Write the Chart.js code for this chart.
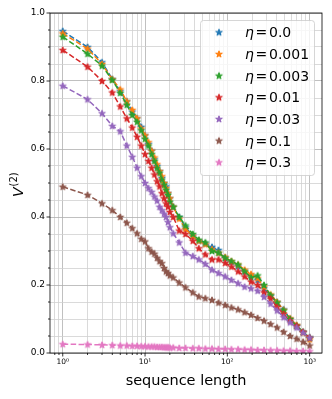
<!DOCTYPE html>
<html>
<head>
<meta charset="utf-8">
<script src="https://cdn.jsdelivr.net/npm/chart.js@4.4.1/dist/chart.umd.min.js"></script>
<style>
  html, body { margin: 0; padding: 0; background: #fff; }
  #wrap { width: 332px; height: 399px; }
</style>
</head>
<body>
<div id="wrap"><canvas id="myChart"></canvas></div>
<script>
// sequence lengths (x) and V^(2) for each eta
const lengths = [1, 2, 3, 4, 5, 6, 7, 8, 9, 10, 11, 12, 13, 14, 15, 16, 17, 18, 19, 20,
  22, 26, 31, 38, 45, 54, 65, 78, 94, 112, 135, 162, 194, 233, 279, 335, 402, 482, 579, 694, 833, 1000];

const eta0 = [0.947, 0.900, 0.855, 0.806, 0.770, 0.740, 0.710, 0.690, 0.665, 0.640, 0.615, 0.595, 0.570, 0.550,
  0.535, 0.515, 0.500, 0.490, 0.470, 0.455, 0.430, 0.400, 0.370, 0.345, 0.330, 0.322, 0.312, 0.303, 0.280, 0.268,
  0.255, 0.240, 0.228, 0.215, 0.190, 0.168, 0.150, 0.128, 0.100, 0.080, 0.062, 0.045];
const eta001 = [0.940, 0.895, 0.850, 0.805, 0.775, 0.740, 0.715, 0.690, 0.660, 0.640, 0.620, 0.595, 0.575, 0.555,
  0.535, 0.520, 0.500, 0.485, 0.470, 0.455, 0.430, 0.395, 0.365, 0.345, 0.330, 0.320, 0.305, 0.295, 0.282, 0.270,
  0.260, 0.245, 0.232, 0.220, 0.195, 0.172, 0.150, 0.127, 0.102, 0.082, 0.060, 0.040];
const eta003 = [0.930, 0.880, 0.845, 0.803, 0.765, 0.730, 0.700, 0.680, 0.655, 0.630, 0.610, 0.585, 0.565, 0.545,
  0.530, 0.510, 0.495, 0.480, 0.465, 0.445, 0.430, 0.400, 0.375, 0.350, 0.333, 0.325, 0.300, 0.295, 0.280, 0.270,
  0.260, 0.240, 0.222, 0.228, 0.200, 0.170, 0.148, 0.125, 0.100, 0.080, 0.062, 0.045];
const eta01 = [0.891, 0.842, 0.800, 0.766, 0.725, 0.690, 0.663, 0.636, 0.610, 0.585, 0.565, 0.545, 0.525, 0.505,
  0.490, 0.470, 0.455, 0.440, 0.430, 0.415, 0.400, 0.360, 0.350, 0.330, 0.308, 0.290, 0.275, 0.275, 0.265, 0.254,
  0.240, 0.225, 0.210, 0.200, 0.178, 0.160, 0.135, 0.115, 0.095, 0.080, 0.062, 0.045];
const eta03 = [0.786, 0.746, 0.705, 0.668, 0.652, 0.610, 0.577, 0.545, 0.520, 0.500, 0.485, 0.474, 0.460, 0.448,
  0.430, 0.420, 0.410, 0.400, 0.385, 0.370, 0.352, 0.325, 0.295, 0.285, 0.275, 0.262, 0.245, 0.235, 0.225, 0.215,
  0.205, 0.195, 0.190, 0.183, 0.165, 0.145, 0.125, 0.105, 0.090, 0.075, 0.060, 0.045];
const eta1 = [0.489, 0.465, 0.440, 0.420, 0.400, 0.383, 0.367, 0.352, 0.336, 0.328, 0.308, 0.298, 0.292, 0.280,
  0.270, 0.264, 0.250, 0.240, 0.235, 0.228, 0.222, 0.207, 0.193, 0.178, 0.166, 0.161, 0.156, 0.148, 0.141, 0.134,
  0.128, 0.120, 0.112, 0.103, 0.095, 0.085, 0.075, 0.062, 0.050, 0.042, 0.033, 0.022];
const eta3 = [0.026, 0.025, 0.024, 0.023, 0.022, 0.022, 0.021, 0.021, 0.020, 0.020, 0.019, 0.019, 0.019, 0.018,
  0.018, 0.018, 0.017, 0.017, 0.017, 0.016, 0.016, 0.015, 0.015, 0.014, 0.014, 0.013, 0.013, 0.012, 0.012, 0.011,
  0.011, 0.010, 0.010, 0.009, 0.009, 0.008, 0.008, 0.007, 0.007, 0.006, 0.006, 0.005];

const etaLabels = ['0.0', '0.001', '0.003', '0.01', '0.03', '0.1', '0.3'];
const series = [eta0, eta001, eta003, eta01, eta03, eta1, eta3];
const colors = ['#1f77b4', '#ff7f0e', '#2ca02c', '#d62728', '#9467bd', '#8c564b', '#e377c2'];
const xTickLabels = {1: '10\u2070', 10: '10\u00b9', 100: '10\u00b2', 1000: '10\u00b3'};

const X_MIN = Math.pow(10, -0.15);
const X_MAX = Math.pow(10, 3.15);

Chart.defaults.font.family = "'DejaVu Sans', sans-serif";
Chart.defaults.color = '#000';

// filled five point star like matplotlib '*'
function makeStar(color) {
  const c = document.createElement('canvas');
  c.width = c.height = 10;
  const g = c.getContext('2d');
  g.beginPath();
  for (let k = 0; k < 10; k++) {
    const r = k % 2 ? 3.5 * 0.382 : 3.5;
    const a = -Math.PI / 2 + k * Math.PI / 5;
    g.lineTo(5 + r * Math.cos(a), 5.3 + r * Math.sin(a));
  }
  g.closePath();
  g.fillStyle = color;
  g.fill();
  g.strokeStyle = color;
  g.lineWidth = 1;
  g.stroke();
  return c;
}
const stars = colors.map(makeStar);

const datasets = series.map((s, i) => ({
  label: 'η = ' + etaLabels[i],
  data: lengths.map((x, k) => ({x: x, y: s[k]})),
  borderColor: colors[i],
  backgroundColor: colors[i],
  borderWidth: 1.5,
  borderDash: [5.5, 2.4],
  pointStyle: stars[i],
  pointRadius: 4,
  pointHoverRadius: 4,
  fill: false,
  tension: 0,
  order: -i
}));

// frame, tick marks, legend and axis labels
const decorations = {
  id: 'decorations',
  afterDatasetsDraw(chart) {
    const {ctx, chartArea: a, scales: {x, y}} = chart;
    ctx.save();
    ctx.strokeStyle = '#000';
    ctx.lineWidth = 0.8;
    ctx.beginPath();
    x.ticks.forEach(t => {
      const px = x.getPixelForValue(t.value);
      ctx.moveTo(px, a.bottom);
      ctx.lineTo(px, a.bottom + (t.major ? 3.5 : 2));
    });
    y.ticks.forEach(t => {
      const py = y.getPixelForValue(t.value);
      ctx.moveTo(a.left, py);
      ctx.lineTo(a.left - (t.major ? 3.5 : 2), py);
    });
    ctx.stroke();
    ctx.strokeRect(a.left, a.top, a.right - a.left, a.bottom - a.top);

    // legend
    const lx = 200.5, ly = 20.5, lw = 114, lh = 155, r = 3;
    ctx.beginPath();
    ctx.moveTo(lx + r, ly);
    ctx.arcTo(lx + lw, ly, lx + lw, ly + lh, r);
    ctx.arcTo(lx + lw, ly + lh, lx, ly + lh, r);
    ctx.arcTo(lx, ly + lh, lx, ly, r);
    ctx.arcTo(lx, ly, lx + lw, ly, r);
    ctx.closePath();
    ctx.fillStyle = 'rgba(255,255,255,0.8)';
    ctx.fill();
    ctx.strokeStyle = 'rgba(204,204,204,0.8)';
    ctx.lineWidth = 1;
    ctx.stroke();
    ctx.fillStyle = '#000';
    ctx.textBaseline = 'alphabetic';
    ctx.textAlign = 'left';
    etaLabels.forEach((lab, i) => {
      const cy = 32.3 + 21.67 * i;
      ctx.drawImage(stars[i], 219 - 5, cy - 5);
      ctx.font = "italic 14px 'DejaVu Sans'";
      ctx.fillText('η', 245, cy + 5.1);
      ctx.font = "14px 'DejaVu Sans'";
      ctx.fillText('=', 255.5, cy + 5.1);
      ctx.fillText(lab, 269, cy + 5.1);
    });

    // x axis title
    ctx.font = "14.5px 'DejaVu Sans'";
    ctx.textAlign = 'center';
    ctx.fillText('sequence length', (a.left + a.right) / 2, 385);

    // y axis title V^(2)
    ctx.translate(22.7, 197);
    ctx.rotate(-Math.PI / 2);
    ctx.textAlign = 'left';
    ctx.font = "italic 14px 'DejaVu Sans'";
    ctx.fillText('V', 0, 0);
    ctx.font = "10px 'DejaVu Sans'";
    ctx.fillText('(2)', 10.5, -5.5);
    ctx.restore();
  }
};

const config = {
  type: 'line',
  data: {datasets: datasets},
  options: {
    responsive: true,
    maintainAspectRatio: false,
    animation: false,
    layout: {padding: {left: 0, top: 13, right: 10, bottom: 0}},
    plugins: {legend: {display: false}, tooltip: {enabled: false}},
    scales: {
      x: {
        type: 'logarithmic',
        min: X_MIN,
        max: X_MAX,
        border: {display: false},
        grid: {
          drawTicks: false,
          lineWidth: 0.8,
          color: c => (c.tick && c.tick.major) ? '#b0b0b0' : '#d0d0d0'
        },
        ticks: {
          autoSkip: false,
          maxRotation: 0,
          padding: 5,
          font: {size: 7.5},
          callback: v => xTickLabels[Math.round(v)] && Math.abs(v - Math.round(v)) < 1e-9 ? xTickLabels[Math.round(v)] : ''
        },
        afterBuildTicks: s => {
          const t = [];
          for (let e = -1; e <= 3; e++) {
            for (let m = 1; m <= 9; m++) {
              const v = m * Math.pow(10, e);
              if (v >= X_MIN && v <= X_MAX) t.push({value: v, major: m === 1});
            }
          }
          s.ticks = t;
        },
        afterFit: s => { s.height = 46; }
      },
      y: {
        type: 'linear',
        min: 0,
        max: 1,
        border: {display: false},
        grid: {
          drawTicks: false,
          lineWidth: 0.8,
          color: c => (c.tick && c.tick.major) ? '#b0b0b0' : '#d0d0d0'
        },
        ticks: {
          autoSkip: false,
          padding: 5,
          font: {size: 9},
          callback: v => {
            const i = Math.round(v * 20);
            return i % 4 === 0 ? (i / 20).toFixed(1) : '';
          }
        },
        afterBuildTicks: s => {
          s.ticks = Array.from({length: 21}, (_, i) => ({value: i / 20, major: i % 4 === 0}));
        },
        afterFit: s => { s.width = 50; }
      }
    }
  },
  plugins: [decorations]
};

const myChart = new Chart(document.getElementById('myChart'), config);
</script>
</body>
</html>
